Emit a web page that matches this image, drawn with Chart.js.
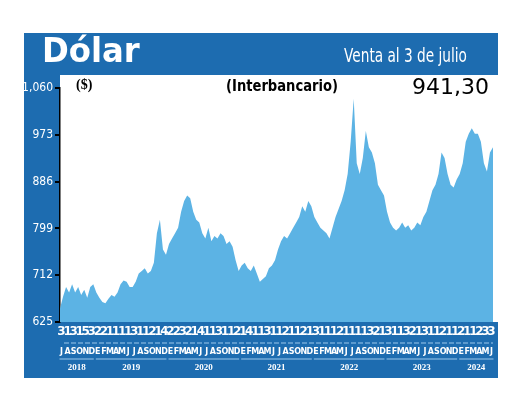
<!DOCTYPE html>
<html><head><meta charset="utf-8">
<script src="https://cdn.jsdelivr.net/npm/chart.js@4"></script>
<style>
body{margin:0;background:#fff;font-family:"DejaVu Sans",sans-serif}
#box{position:absolute;left:24px;top:33px;width:474px;height:345px;background:#1d6cb0}
canvas{position:absolute;left:0;top:0}
.t{position:absolute;white-space:nowrap;transform-origin:0 0}
</style></head><body>
<div id="box">
<canvas id="c" width="474" height="345"></canvas>
<div class="t" style="left:18px;top:-3px;color:#fff;font:bold 34px 'DejaVu Sans',sans-serif;transform:scaleX(0.95)">Dólar</div>
<div class="t" style="left:320px;top:11px;color:#fff;font:19px 'DejaVu Sans',sans-serif;transform:scaleX(0.72)">Venta al 3 de julio</div>
<div class="t" style="left:52px;top:44px;color:#000;font:bold 14px 'Liberation Serif',serif">($)</div>
<div class="t" style="left:202px;top:43px;color:#000;font:bold 16px 'DejaVu Sans',sans-serif;transform:scaleX(0.82)">(Interbancario)</div>
<div class="t" style="left:388px;top:41px;color:#000;font:22px 'DejaVu Sans',sans-serif">941,30</div>
</div>
<script>
const years = ["2018","2019","2020","2021","2022","2023","2024"];
const monthLetters = ["J","A","S","O","N","D","E","F","M","A","M","J"];
const counts = "313153221111311214223214113112141131121121311121111321311321311211211233".split("");
const yTicks = [625,712,799,886,973,1060];
// two readings per month, Jul 2018 .. Jun 2024
const dolar = [
650,672,690,680,695,680,690,675,685,670,690,695,
680,670,662,660,668,675,672,680,695,702,700,690,690,700,715,720,725,715,720,735,790,815,760,750,
770,780,790,800,830,850,860,855,830,815,810,790,780,800,775,785,780,790,785,770,775,765,740,720,
730,735,725,720,730,715,700,705,710,725,730,740,760,775,785,780,790,800,810,820,840,830,850,840,
820,810,800,795,790,780,800,820,835,850,870,900,960,1040,920,900,930,980,950,940,920,880,870,860,
830,810,800,795,800,810,800,805,795,800,810,805,820,830,850,870,880,900,940,930,900,880,875,890,
900,920,960,975,985,975,975,960,920,905,940,950];
const labels = dolar.map((v,i)=>String(i));

const deco = {
  id:"deco",
  beforeDraw(ch){
    const c=ch.ctx,a=ch.chartArea;
    c.fillStyle="#fff";c.fillRect(a.left,42,ch.width-a.left,a.bottom-42);
  },
  afterDraw(ch){
    const c=ch.ctx,x=ch.scales.x,a=ch.chartArea;
    const px=m=>x.getPixelForValue(m*2+1)-(x.getPixelForValue(1)-x.getPixelForValue(0))/2;
    c.save();c.fillStyle="#fff";c.textAlign="center";c.textBaseline="middle";
    c.fontStretch="condensed";
    c.font="bold 12px 'DejaVu Sans',sans-serif";
    counts.forEach((d,m)=>c.fillText(d,px(m),a.bottom+10));
    c.strokeStyle="#9cc8ec";c.lineWidth=1;
    c.setLineDash([5,2]);c.beginPath();c.moveTo(a.left+4,a.bottom+21);c.lineTo(a.right,a.bottom+21);c.stroke();c.setLineDash([]);
    c.font="bold 8px 'DejaVu Sans',sans-serif";
    counts.forEach((d,m)=>c.fillText(monthLetters[m%12],px(m),a.bottom+30));
    years.forEach((y,i)=>{
      const m0=i===0?0:i*12-6, m1=Math.min(i*12+5,71);
      const l=px(m0)-2,r=px(m1)+2;
      c.beginPath();c.moveTo(l,a.bottom+37);c.lineTo(r,a.bottom+37);c.stroke();
      c.font="bold 9px 'Liberation Serif',serif";
      c.fillText(y,(l+r)/2,a.bottom+46);
    });
    c.restore();
  }
};

new Chart(document.getElementById("c"),{
  type:"line",
  data:{labels,datasets:[{data:dolar,fill:"start",backgroundColor:"#5cb3e4",borderWidth:0,pointRadius:0,tension:0}]},
  options:{
    responsive:false,animation:false,
    layout:{padding:{top:55,bottom:56,right:5}},
    plugins:{legend:{display:false},tooltip:{enabled:false}},
    scales:{
      x:{type:"category",offset:false,display:false},
      y:{min:625,max:1060,afterFit:s=>{s.width=36;},
        afterBuildTicks:s=>{s.ticks=yTicks.map(v=>({value:v}));},
        ticks:{color:"#fff",font:{size:12,family:"'DejaVu Sans Condensed','DejaVu Sans',sans-serif"},padding:2},
        grid:{drawOnChartArea:false,color:"#000",tickLength:5,lineWidth:2},
        border:{color:"#000",width:1.5}}
    }
  },
  plugins:[deco]
});
</script>
</body></html>
